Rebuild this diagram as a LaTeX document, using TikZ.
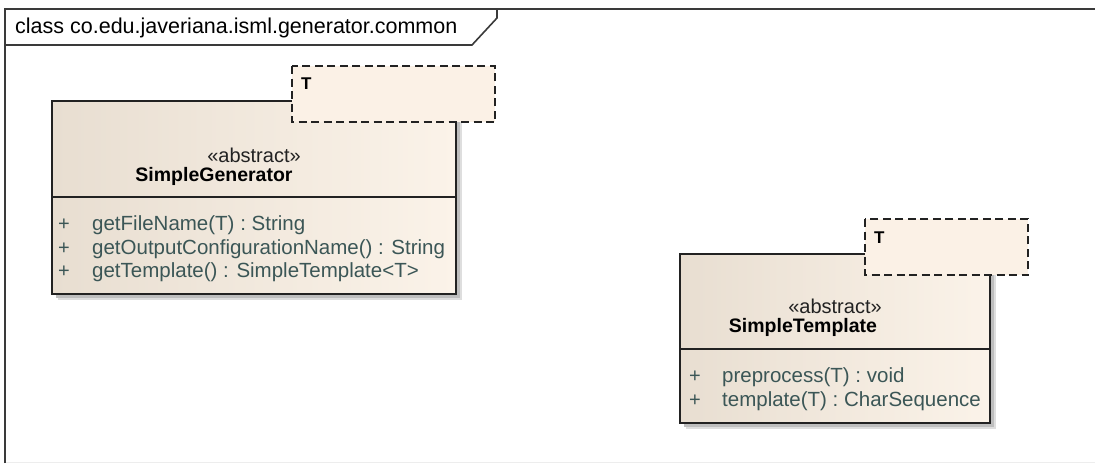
\documentclass[tikz,border=0pt]{standalone}
\usepackage{fontspec}
\setmainfont{Liberation Sans}
\definecolor{framecol}{HTML}{3A3A3A}
\definecolor{boxline}{HTML}{222222}
\definecolor{boxleft}{HTML}{E8DED1}
\definecolor{boxright}{HTML}{FBF3E9}
\definecolor{tparfill}{HTML}{FBF1E6}
\definecolor{optext}{HTML}{3B5656}
\definecolor{shadowcol}{HTML}{BEBEBE}
\begin{document}
\begin{tikzpicture}[x=1pt,y=-1pt,
  txt/.style={inner sep=0pt, font=\fontsize{20}{24}\selectfont},
  optxt/.style={txt, anchor=west, text=optext, font=\fontsize{20.5}{24}\selectfont},
  plus/.style={txt, text=optext},
  stereo/.style={txt, text=boxline},
  cname/.style={txt, text=black, font=\fontsize{19.5}{24}\selectfont\bfseries},
  tpar/.style={inner sep=0pt, anchor=west, font=\fontsize{17}{20}\selectfont\bfseries},
  classbox/.style={draw=boxline, line width=1.5pt},
  tparbox/.style={fill=tparfill, draw=boxline, line width=1.5pt, dash pattern=on 8pt off 4.5pt},
  shadow/.style={fill=shadowcol}]
\useasboundingbox (0,0) rectangle (1095,467);
\fill[white] (0,0) rectangle (1095,467);

% package frame and its name tab
\draw[black!7, line width=1pt] (5,462) -- (1095,462);
\draw[framecol, line width=2pt] (5,463) -- (5,9) -- (1095,9);
\draw[framecol, line width=1.6pt] (5,45) -- (472,45) -- (497,18) -- (497,9);
\node[txt, anchor=west, text=black, font=\fontsize{21.5}{24}\selectfont] (title) at (15,28)
  {class co.edu.javeriana.isml.generator.common};

% SimpleGenerator
\fill[shadow, opacity=0.5] (58,107) rectangle (462,300);
\fill[shadow] (56,105) rectangle (460,298);
\shade[left color=boxleft, right color=boxright] (52,101) rectangle (456,294);
\draw[classbox] (52,101) rectangle (456,294);
\draw[classbox] (52,197) -- (456,197);
\path[tparbox] (292,66) rectangle (495,122);
\node[tpar] (genT) at (301,84) {T};
\node[stereo] (genStereo) at (254,155) {«abstract»};
\node[cname] (genName) at (214,176) {SimpleGenerator};
\node[plus] (genP1) at (64,225) {+};
\node[optxt] (genOp1) at (92,225) {getFileName(T) : String};
\node[plus] (genP2) at (64,249) {+};
\node[optxt] (genOp2) at (92,249) {getOutputConfigurationName() : String};
\node[plus] (genP3) at (64,272) {+};
\node[optxt] (genOp3) at (92,272) {getTemplate() : SimpleTemplate<T>};

% SimpleTemplate
\fill[shadow, opacity=0.5] (686,260) rectangle (996,429);
\fill[shadow] (684,258) rectangle (994,427);
\shade[left color=boxleft, right color=boxright] (680,254) rectangle (990,423);
\draw[classbox] (680,254) rectangle (990,423);
\draw[classbox] (680,349) -- (990,349);
\path[tparbox] (865,219) rectangle (1028,275);
\node[tpar] (tplT) at (874,238) {T};
\node[stereo] (tplStereo) at (835,306) {«abstract»};
\node[cname] (tplName) at (803,327) {SimpleTemplate};
\node[plus] (tplP1) at (695,377) {+};
\node[optxt] (tplOp1) at (722,377) {preprocess(T) : void};
\node[plus] (tplP2) at (695,401) {+};
\node[optxt] (tplOp2) at (722,401) {template(T) : CharSequence};
\end{tikzpicture}
\end{document}
